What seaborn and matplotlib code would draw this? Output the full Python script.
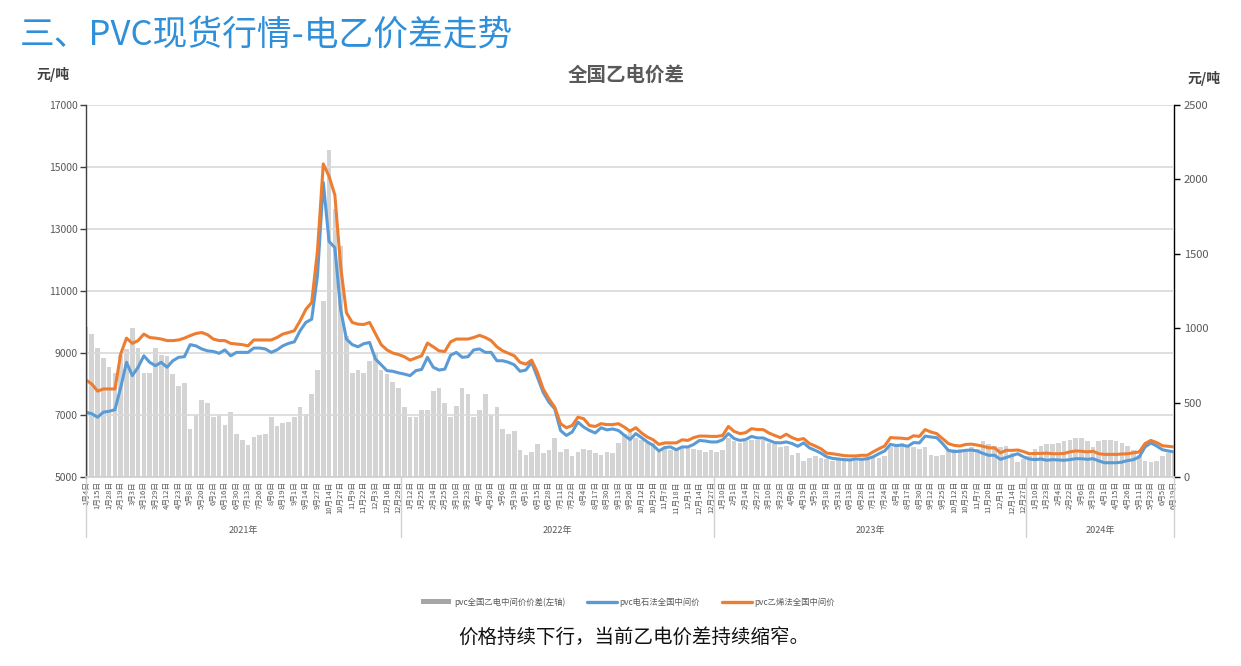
import numpy as np
import pandas as pd
import seaborn as sns
import matplotlib
matplotlib.use("Agg")
import matplotlib.pyplot as plt
from matplotlib.patches import Patch
from matplotlib.lines import Line2D
import matplotlib.transforms as mtransforms

sns.set_theme(style="white")
plt.rcParams['font.family'] = ['Noto Sans CJK SC', 'DejaVu Sans']
plt.rcParams['axes.unicode_minus'] = False

# ---------------- data ----------------
labels_2021 = ['1月4日','1月15日','1月28日','2月19日','3月3日','3月16日','3月29日','4月12日','4月23日',
               '5月8日','5月20日','6月2日','6月16日','6月30日','7月13日','7月26日','8月6日','8月19日',
               '9月1日','9月14日','9月27日','10月14日','10月27日','11月9日','11月22日','12月3日',
               '12月16日','12月29日']
labels_2022 = ['1月12日','1月25日','2月14日','2月25日','3月10日','3月23日','4月7日','4月20日','5月6日',
               '5月19日','6月1日','6月15日','6月28日','7月11日','7月22日','8月4日','8月17日','8月30日',
               '9月13日','9月26日','10月12日','10月25日','11月7日','11月18日','12月1日','12月14日','12月27日']
labels_2023 = ['1月10日','2月1日','2月14日','2月27日','3月10日','3月23日','4月6日','4月19日','5月5日',
               '5月18日','5月31日','6月13日','6月28日','7月11日','7月24日','8月4日','8月17日','8月30日',
               '9月12日','9月25日','10月12日','10月25日','11月7日','11月20日','12月1日','12月14日','12月27日']
labels_2024 = ['1月10日','1月23日','2月4日','2月22日','3月6日','3月19日','4月1日','4月15日','4月26日',
               '5月11日','5月23日','6月5日','6月19日']
years = ['2021年', '2022年', '2023年', '2024年']

# pvc乙烯法全国中间价 (left axis)
ethylene = [
    8130, 8000, 7770, 7840, 7840, 7840, 8970, 9480, 9310, 9400,
    9610, 9500, 9480, 9450, 9400, 9400, 9420, 9480, 9560, 9630,
    9660, 9590, 9450, 9400, 9400, 9310, 9290, 9270, 9230, 9420,
    9420, 9420, 9420, 9500, 9610, 9660, 9720, 10040, 10410, 10630,
    12300, 15100, 14700, 14100, 11800, 10300, 9985, 9930, 9920, 9985,
    9630, 9270, 9100, 9000, 8950, 8880, 8770, 8840, 8910, 9320,
    9200, 9070, 9050, 9360, 9450, 9450, 9450, 9500, 9570, 9500,
    9400, 9200, 9070, 8990, 8910, 8700, 8640, 8770, 8380, 7840,
    7520, 7250, 6720, 6590, 6660, 6930, 6880, 6660, 6630, 6720,
    6690, 6690, 6720, 6610, 6480, 6590, 6420, 6290, 6200, 6050,
    6100, 6100, 6100, 6200, 6180, 6270, 6320, 6320, 6310, 6310,
    6340, 6630, 6470, 6400, 6430, 6560, 6530, 6530, 6420, 6340,
    6270, 6380, 6270, 6200, 6240, 6080, 6000, 5910, 5770, 5750,
    5720, 5690, 5680, 5680, 5700, 5700, 5810, 5910, 6000, 6270,
    6260, 6250, 6230, 6330, 6310, 6530, 6450, 6400, 6240, 6080,
    6020, 6000, 6050, 6060, 6030, 5990, 5940, 5940, 5780, 5860,
    5860, 5870, 5820, 5750, 5760, 5760, 5770, 5750, 5750, 5760,
    5810, 5840, 5830, 5810, 5830, 5750, 5730, 5730, 5730, 5740,
    5750, 5780, 5810, 6080, 6180, 6110, 6010, 5990, 5970]

# pvc电石法全国中间价 (left axis)
carbide = [
    7090, 7040, 6930, 7090, 7120, 7170, 7890, 8700, 8270, 8540,
    8910, 8700, 8590, 8700, 8540, 8750, 8860, 8880, 9270, 9230,
    9130, 9070, 9050, 8990, 9100, 8910, 9020, 9020, 9020, 9160,
    9160, 9130, 9020, 9100, 9230, 9310, 9360, 9720, 9990, 10090,
    11500, 14500, 12600, 12400, 10400, 9450, 9270, 9200, 9300, 9340,
    8810, 8620, 8430, 8410, 8360, 8320, 8270, 8430, 8470, 8860,
    8540, 8450, 8480, 8930, 9020, 8860, 8880, 9100, 9130, 9020,
    9020, 8750, 8750, 8700, 8620, 8410, 8450, 8700, 8220, 7730,
    7410, 7200, 6500, 6340, 6450, 6770, 6610, 6500, 6420, 6590,
    6520, 6550, 6500, 6350, 6210, 6400, 6270, 6130, 6020, 5840,
    5950, 5970, 5880, 5970, 5970, 6050, 6180, 6160, 6130, 6130,
    6200, 6400, 6240, 6180, 6210, 6310, 6260, 6260, 6180, 6110,
    6100, 6130, 6080, 5990, 6100, 5940, 5860, 5770, 5650, 5600,
    5580, 5560, 5550, 5580, 5570, 5590, 5650, 5750, 5840, 6050,
    6015, 6030, 5990, 6110, 6100, 6320, 6290, 6270, 6080, 5860,
    5820, 5830, 5860, 5870, 5840, 5760, 5700, 5700, 5570, 5630,
    5690, 5750, 5650, 5580, 5560, 5580, 5540, 5560, 5550, 5540,
    5560, 5590, 5590, 5570, 5590, 5520, 5460, 5460, 5460, 5480,
    5530, 5560, 5650, 5970, 6100, 6000, 5880, 5840, 5810]

# pvc全国乙电中间价价差 (bars, drawn against right scale)
spread = [
    1010, 960, 870, 800, 740, 700, 820, 860, 1000, 870,
    700, 700, 870, 820, 810, 690, 610, 630, 320, 420,
    520, 500, 400, 420, 350, 440, 290, 250, 215, 270,
    280, 290, 400, 340, 360, 370, 400, 470, 425, 560,
    720, 1180, 2200, 1800, 1550, 950, 700, 720, 700, 780,
    840, 720, 690, 640, 600, 470, 400, 400, 450, 450,
    580, 600, 500, 400, 480, 600, 560, 400, 450, 560,
    420, 470, 320, 290, 310, 180, 150, 170, 220, 160,
    180, 260, 170, 190, 140, 170, 190, 180, 160, 150,
    170, 160, 230, 290, 300, 260, 250, 230, 230, 170,
    190, 180, 190, 200, 200, 190, 180, 170, 180, 170,
    180, 260, 240, 230, 240, 250, 250, 250, 230, 220,
    200, 210, 150, 160, 110, 130, 140, 130, 120, 110,
    120, 110, 120, 110, 120, 130, 140, 130, 140, 200,
    220, 230, 210, 200, 190, 200, 150, 140, 150, 190,
    190, 190, 190, 200, 190, 240, 220, 210, 200, 210,
    160, 100, 120, 140, 190, 210, 220, 220, 230, 240,
    250, 260, 260, 240, 200, 240, 250, 250, 240, 230,
    210, 180, 150, 110, 100, 110, 140, 160, 170]

tick_labels = labels_2021 + labels_2022 + labels_2023 + labels_2024
year_sizes = [len(labels_2021), len(labels_2022), len(labels_2023), len(labels_2024)]

n = len(ethylene)
steps_per_label = (n - 1) / (len(tick_labels) - 1)
xk = np.arange(n) / steps_per_label
df = pd.DataFrame({'x': xk, 'eth': ethylene, 'carb': carbide, 'spread': spread})

# ---------------- figure ----------------
BLUE = '#5b9bd5'
ORANGE = '#ed7d31'
BARC = '#d4d4d4'
TXT = '#595959'

fig = plt.figure(figsize=(12.41, 6.66), dpi=100)
ax = fig.add_axes([86/1241, 1-477/666, (1174-86)/1241, (477-105)/666])
ax2 = ax.twinx()

sns.barplot(data=df, x='x', y='spread', native_scale=True, ax=ax2, color=BARC,
            saturation=1, width=0.8, errorbar=None, linewidth=0)
sns.lineplot(data=df, x='x', y='carb', ax=ax, color=BLUE, linewidth=2.2)
sns.lineplot(data=df, x='x', y='eth', ax=ax, color=ORANGE, linewidth=2.2)

ax.set_zorder(ax2.get_zorder() + 1)
ax.patch.set_visible(False)

ax.set_xlim(0, len(tick_labels) - 1)
ax.set_ylim(5000, 17000)
ax2.set_ylim(0, 2500)
ax.set_yticks(np.arange(5000, 17001, 2000))
ax2.set_yticks(np.arange(0, 2501, 500))
ax.set_xticks(np.arange(len(tick_labels)))
ax.set_xticklabels(tick_labels, rotation=90, fontsize=5.5, color=TXT)
ax.set_xlabel('')
ax.set_ylabel('')
ax2.set_ylabel('')
ax2.set_xlabel('')

ax.grid(axis='y', color='#d9d9d9', linewidth=1.2)
ax.grid(axis='x', visible=False)
ax2.grid(False)

ax.tick_params(axis='y', labelsize=7.5, colors=TXT, length=4, width=1, direction='out', left=True, pad=2)
ax.tick_params(axis='y', labelcolor=TXT, color='#404040')
ax2.tick_params(axis='y', labelsize=8, colors=TXT, length=4, width=1, direction='out', right=True, pad=3)
ax2.tick_params(axis='y', color='#000000')
ax.tick_params(axis='x', length=0, pad=3)

for s in ['top']:
    ax.spines[s].set_visible(False)
    ax2.spines[s].set_visible(False)
ax.spines['left'].set_color('#404040')
ax.spines['left'].set_linewidth(1.0)
ax2.spines['left'].set_visible(False)
ax2.spines['right'].set_color('#000000')
ax2.spines['right'].set_linewidth(1.0)
ax.spines['right'].set_visible(False)
ax.spines['bottom'].set_color('#d0d0d0')
ax2.spines['bottom'].set_visible(False)

# year grouping below axis
trans = mtransforms.blended_transform_factory(ax.transData, ax.transAxes)
bounds = [0.0]
acc = 0
for sz in year_sizes[:-1]:
    acc += sz
    bounds.append(acc - 1 + 0.25)
bounds.append(len(tick_labels) - 1)
for b in bounds:
    ax.plot([b, b], [0, -0.162], transform=trans, color='#d0d0d0', linewidth=1, clip_on=False)
for i, yr in enumerate(years):
    ax.text((bounds[i] + bounds[i + 1]) / 2, -0.145, yr, transform=trans, ha='center', va='center',
            fontsize=6.5, color=TXT)

# texts
fig.text(20/1241, 1-36/666, '三、PVC现货行情-电乙价差走势', fontsize=25, color='#2f8fd8',
         ha='left', va='center')
fig.text(626/1241, 1-75/666, '全国乙电价差', fontsize=14, color=TXT, fontweight='bold',
         ha='center', va='center')
fig.text(53/1241, 1-75/666, '元/吨', fontsize=10, color='#404040', fontweight='bold',
         ha='center', va='center')
fig.text(1204/1241, 1-78/666, '元/吨', fontsize=10, color='#404040', fontweight='bold',
         ha='center', va='center')
fig.text(634/1241, 1-638/666, '价格持续下行，当前乙电价差持续缩窄。', fontsize=14, color='#111111',
         ha='center', va='center')

handles = [Patch(facecolor='#a6a6a6', edgecolor='none'),
           Line2D([0], [0], color=BLUE, linewidth=2.4),
           Line2D([0], [0], color=ORANGE, linewidth=2.4)]
leg_labels = ['pvc全国乙电中间价价差(左轴)', 'pvc电石法全国中间价', 'pvc乙烯法全国中间价']
leg = fig.legend(handles, leg_labels, loc='center', bbox_to_anchor=(628/1241, 1-602/666), ncol=3,
                 frameon=False, fontsize=6, handlelength=3.6, handleheight=0.5, columnspacing=2.6,
                 handletextpad=0.3, labelcolor=TXT)

fig.savefig('out.png', dpi=100)
